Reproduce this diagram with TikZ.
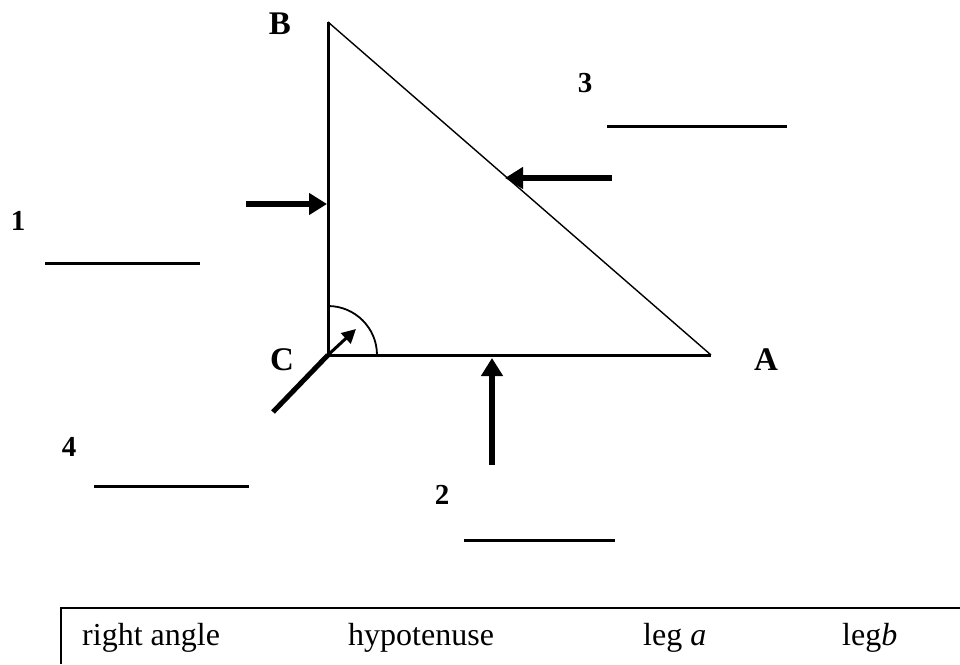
\documentclass[tikz,border=0pt]{standalone}
\usepackage{fontspec}
\setmainfont{Liberation Serif}
\usetikzlibrary{arrows.meta}
\tikzset{
    leg/.style={line width=3pt},
    hyp/.style={line width=1.4pt},
    blank/.style={line width=3pt},
    pointer/.style={line width=5.5pt,-{Triangle[length=18pt,width=21pt]}},
    vtx/.style={font=\fontsize{33}{33}\selectfont\bfseries},
    num/.style={font=\fontsize{29}{29}\selectfont\bfseries},
    word/.style={font=\fontsize{32}{32}\selectfont,anchor=base west,inner sep=0pt}
}
\begin{document}
    \begin{tikzpicture}[x=1pt,y=-1pt]
        \useasboundingbox (0,0) rectangle (960,664);
        \coordinate (C) at (328,355);
        \coordinate (B) at (328,22);
        \coordinate (A) at (711,355);
        \draw[leg] (B) -- (C) -- (A);
        \draw[hyp] (B) -- (A);
        \draw[line width=1.8pt] (377,355) arc[start angle=0,end angle=-90,radius=49];
        \coordinate (ra) at (356,329);
        \draw[line width=3pt,-{Triangle[length=14pt,width=14pt]}] (C) -- (ra);
        \coordinate (t4) at (273,412);
        \draw[line width=5pt] (t4) -- (C);
        \node[vtx] (lB) at (280,24) {B};
        \node[vtx] (lC) at (282,360) {C};
        \node[vtx] (lA) at (766,360) {A};
        \coordinate (t1) at (246,204); \coordinate (h1) at (327,204);
        \coordinate (t2) at (492,465); \coordinate (h2) at (492,358);
        \coordinate (t3) at (612,178); \coordinate (h3) at (505,178);
        \foreach \i in {1,2,3} \draw[pointer] (t\i) -- (h\i);
        \foreach \i/\lx/\ly/\sx/\ex/\wy in {1/18/221/45/200/263, 2/442/495/464/615/540, 3/585/83/607/787/126, 4/69/447/94/249/486} {
            \node[num] (n\i) at (\lx,\ly) {\i};
            \coordinate (s\i) at (\sx,\wy);
            \coordinate (e\i) at (\ex,\wy);
            \draw[blank] (s\i) -- (e\i);
        }
        \coordinate (boxbl) at (61,664);
        \coordinate (boxtl) at (61,608);
        \coordinate (boxtr) at (960,608);
        \draw[line width=2pt] (boxbl) -- (boxtl) -- (boxtr);
        \node[word] (w1) at (82,645) {right angle};
        \node[word] (w2) at (348,645) {hypotenuse};
        \node[word] (w3) at (643,645) {leg \textit{a}};
        \node[word] (w4) at (842,645) {leg\textit{b}};
    \end{tikzpicture}
\end{document}
